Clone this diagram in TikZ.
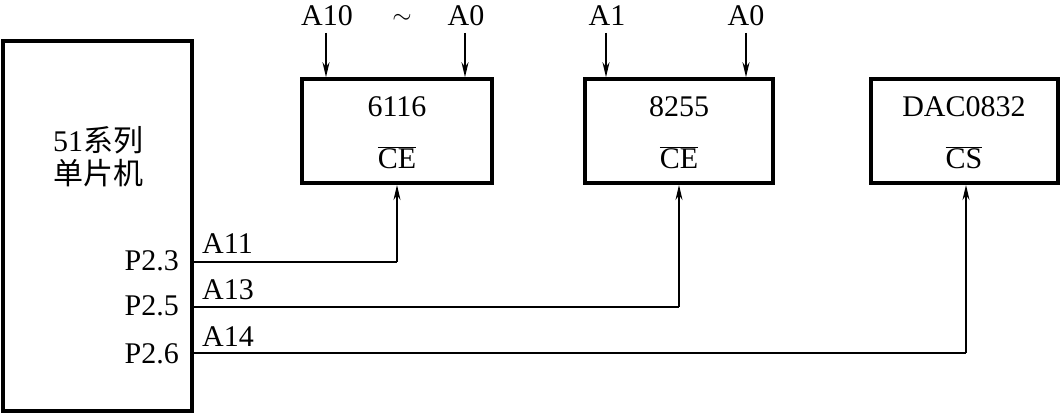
\documentclass[tikz,border=0pt]{standalone}
\usepackage{fontspec}
\setmainfont{Liberation Serif}
\newfontfamily\cjk{Noto Sans CJK SC}
\usetikzlibrary{arrows.meta}
\newcommand\ovl[1]{$\overline{\mbox{#1}}$}
\begin{document}
\begin{tikzpicture}[x=1pt,y=-1pt,
  box/.style={draw,line width=3.6pt,inner sep=0pt},
  lbl/.style={font=\fontsize{30}{32}\selectfont,inner sep=1pt},
  arr/.style={line width=1.8pt,-{Stealth[length=15pt,width=7pt]}},
  wire/.style={line width=2.6pt},
  thinwire/.style={line width=1.5pt}]
\useasboundingbox (0,0) rectangle (1061,414);
% boxes
\node[box,minimum width=189pt,minimum height=370pt] (mcu) at (97.5,226) {};
\node[box,minimum width=190pt,minimum height=104pt] (m6116) at (397,131) {};
\node[box,minimum width=188pt,minimum height=104pt] (m8255) at (679,131) {};
\node[box,minimum width=187pt,minimum height=104pt] (dac) at (964.5,131) {};
% box texts
\node[lbl] (t51) at (98,140) {51{\cjk 系列}};
\node[lbl] (tmcu) at (98,173) {{\cjk 单片机}};
\node[lbl] (t6116) at (397,107) {6116};
\node[lbl] (ce1) at (397,158) {\ovl{CE}};
\node[lbl] (t8255) at (679,107) {8255};
\node[lbl] (ce2) at (679,158) {\ovl{CE}};
\node[lbl] (tdac) at (964,107) {DAC0832};
\node[lbl] (cs3) at (964,158) {\ovl{CS}};
% top labels
\node[lbl] (a10) at (327,16) {A10};
\node[lbl] (tilde) at (402,19) {$\sim$};
\node[lbl] (a0a) at (466,16) {A0};
\node[lbl] (a1) at (607,16) {A1};
\node[lbl] (a0b) at (746,16) {A0};
\coordinate (a10s) at (326,33);
\coordinate (a0as) at (465,33);
\coordinate (a1s) at (606,33);
\coordinate (a0bs) at (746,33);
\draw[arr] (a10s) -- (a10s |- m6116.north);
\draw[arr] (a0as) -- (a0as |- m6116.north);
\draw[arr] (a1s) -- (a1s |- m8255.north);
\draw[arr] (a0bs) -- (a0bs |- m8255.north);
% port labels
\node[lbl,anchor=east] (p23) at (180,261) {P2.3};
\node[lbl,anchor=east] (p25) at (180,306) {P2.5};
\node[lbl,anchor=east] (p26) at (180,354) {P2.6};
\node[lbl,anchor=west] (a11) at (201,244) {A11};
\node[lbl,anchor=west] (a13) at (201,290) {A13};
\node[lbl,anchor=west] (a14) at (201,337) {A14};
% wires
\coordinate (w1) at (192,262);
\coordinate (w2) at (192,307);
\coordinate (w3) at (192,353);
\coordinate (c1) at (397,185);
\coordinate (c2) at (679,185);
\coordinate (c3) at (966,185);
\draw[wire] (w1) -| (397,262);
\draw[arr] (397,262) -- (c1);
\draw[thinwire] (w2) -| (679,307);
\draw[arr] (679,307) -- (c2);
\draw[wire] (w3) -| (966,353);
\draw[arr] (966,353) -- (c3);
\end{tikzpicture}
\end{document}
